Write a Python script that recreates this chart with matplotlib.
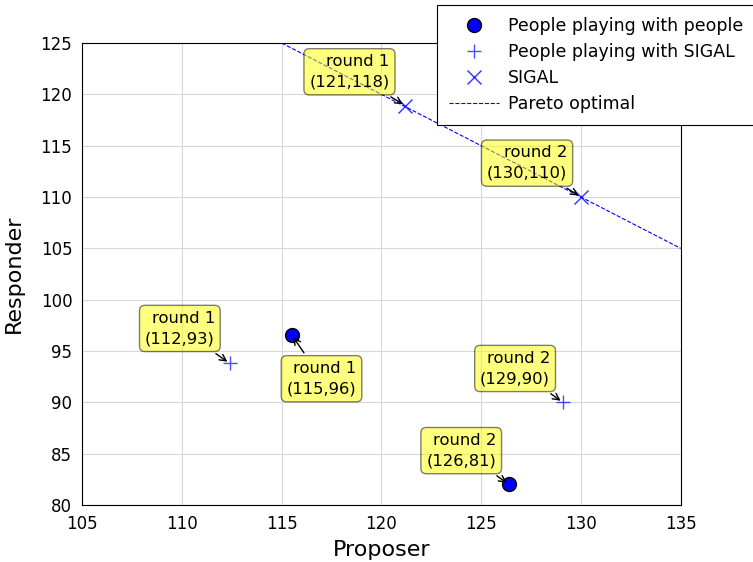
import matplotlib
matplotlib.use("Agg")
import matplotlib.pyplot as plt

# Data
people_x = [115.5, 126.4]
people_y = [96.6, 82.0]
sigal_people_x = [112.4, 129.1]
sigal_people_y = [93.8, 90.0]
sigal_x = [121.2, 130.0]
sigal_y = [118.9, 110.0]
pareto_x = [115, 135]
pareto_y = [125, 105]

ann_labels = ["round 1\n(121,118)", "round 2\n(130,110)", "round 1\n(112,93)",
              "round 1\n(115,96)", "round 2\n(129,90)", "round 2\n(126,81)"]
ann_points = [(sigal_x[0], sigal_y[0]), (sigal_x[1], sigal_y[1]),
              (sigal_people_x[0], sigal_people_y[0]), (people_x[0], people_y[0]),
              (sigal_people_x[1], sigal_people_y[1]), (people_x[1], people_y[1])]
ann_text_pos = [(118.4, 122.2), (127.3, 113.3), (109.9, 97.2),
                (117.0, 92.3), (126.7, 93.3), (124.0, 85.3)]

fig = plt.figure(figsize=(7.53, 5.62), dpi=100)
ax = fig.add_axes([0.109, 0.1014, 0.795, 0.822])

ax.plot(people_x, people_y, 'o', color='blue', markeredgecolor='black', markersize=10,
        label='People playing with people', zorder=3)
ax.plot(sigal_people_x, sigal_people_y, '+', color='blue', markersize=10, alpha=0.7,
        label='People playing with SIGAL', zorder=3)
ax.plot(sigal_x, sigal_y, 'x', color='blue', markersize=10, alpha=0.8,
        label='SIGAL', zorder=3)
ax.plot(pareto_x, pareto_y, '--', color='blue', linewidth=0.8, label='Pareto optimal', zorder=2)

for lab, pt, tp in zip(ann_labels, ann_points, ann_text_pos):
    ax.annotate(lab, xy=pt, xytext=tp, textcoords='data', ha='center', va='center',
                multialignment='right', fontsize=11.8, linespacing=1.45,
                bbox=dict(boxstyle='round,pad=0.33', fc='yellow', ec='black', alpha=0.5),
                arrowprops=dict(arrowstyle='->', connectionstyle='arc3,rad=0', color='black'),
                zorder=4)

ax.set_xlim(105, 135)
ax.set_ylim(80, 125)
ax.set_xticks(range(105, 136, 5))
ax.set_yticks(range(80, 126, 5))
ax.tick_params(labelsize=12, direction='in', length=0, pad=7)
ax.grid(True, color='#d8d8d8', linewidth=0.8)
ax.set_axisbelow(True)
ax.set_xlabel('Proposer', fontsize=16, labelpad=5)
ax.set_ylabel('Responder', fontsize=16, labelpad=12)

leg = ax.legend(loc='upper left', bbox_to_anchor=(0.58, 0.991), bbox_transform=fig.transFigure,
                borderaxespad=0, prop={'size': 12.5}, numpoints=1, fancybox=False, framealpha=1,
                edgecolor='black', handlelength=2.9, handletextpad=0.5, labelspacing=0.45,
                borderpad=0.7)
leg.get_frame().set_linewidth(0.8)

fig.savefig('out.png', dpi=100)
